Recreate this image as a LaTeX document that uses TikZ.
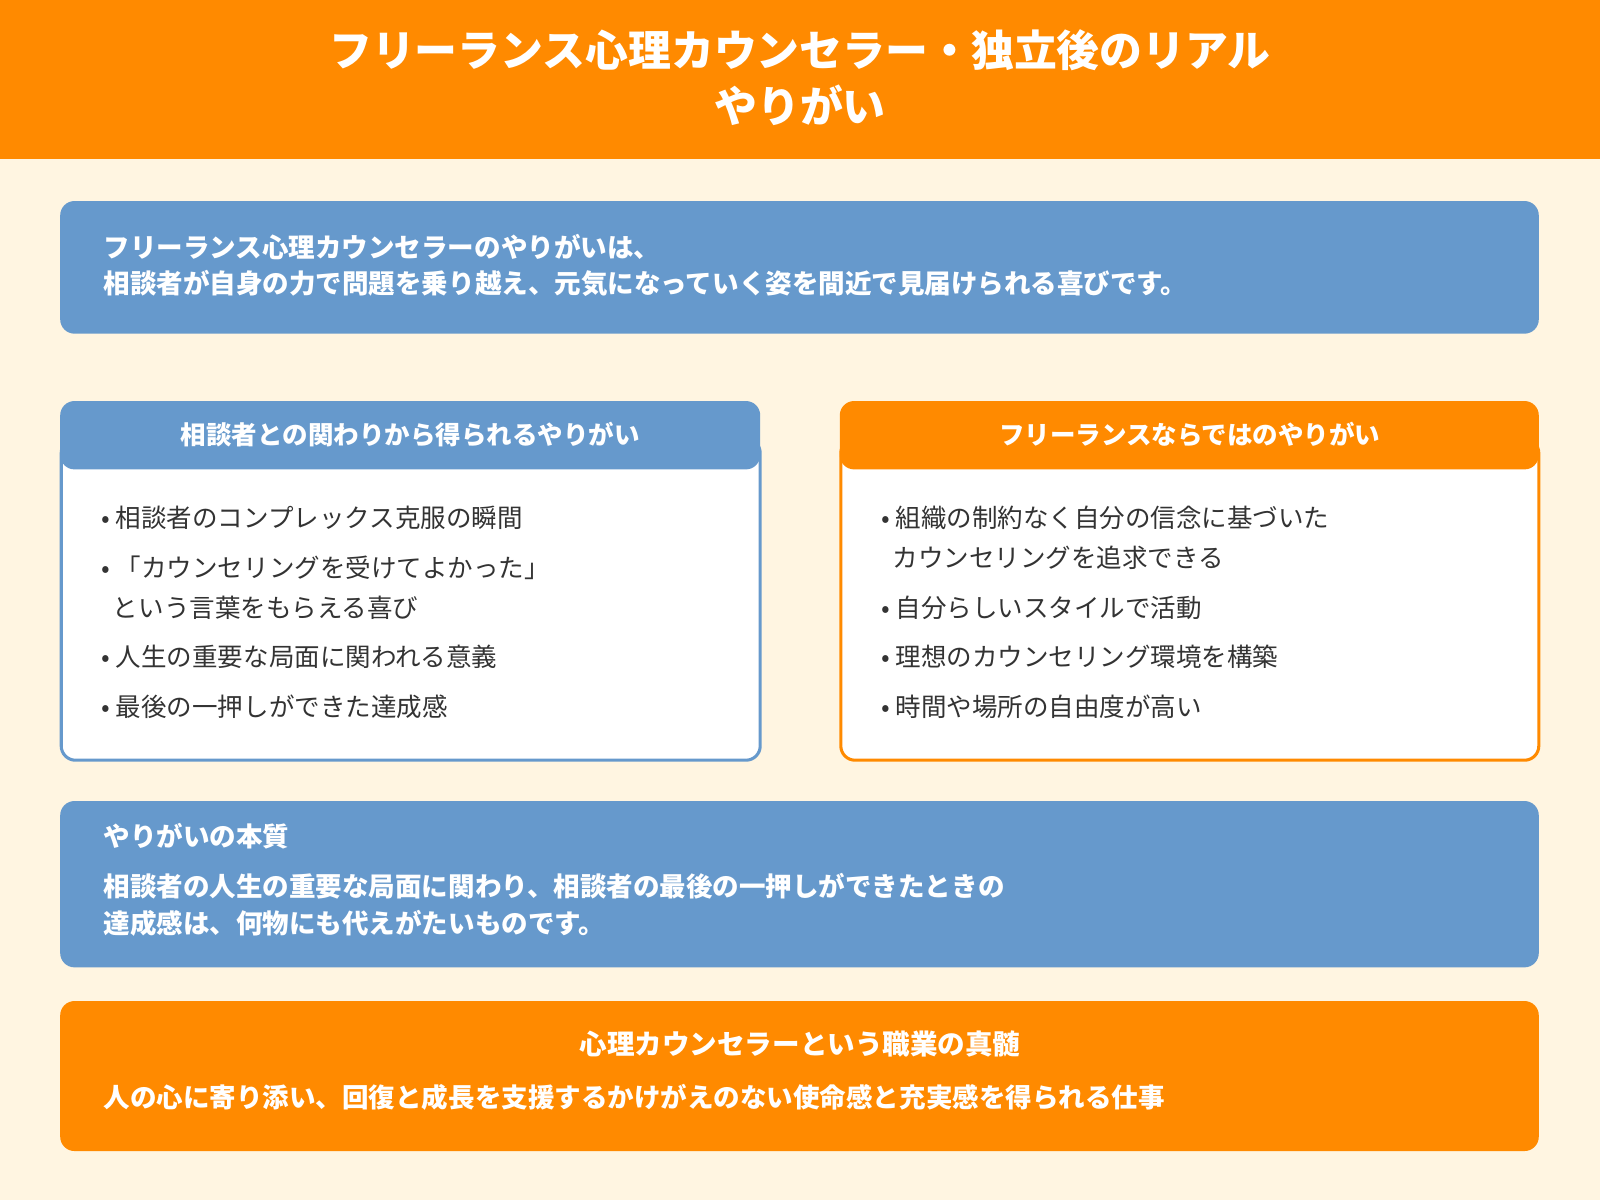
\documentclass[tikz,border=0pt]{standalone}
\usepackage{fontspec}
\setmainfont{Noto Sans CJK JP}
\usetikzlibrary{positioning}
\definecolor{accent}{HTML}{FF8A00}
\definecolor{steel}{HTML}{6699CC}
\definecolor{cream}{HTML}{FFF5E1}
\definecolor{ink}{HTML}{333333}
\begin{document}
\begin{tikzpicture}
    [ x = 1pt, y = -1pt
    , banner/.style =
      { rounded corners = 14pt }
    , headtext/.style =
      { text = white, font = \bfseries\fontsize{25}{30}\selectfont }
    , bodytext/.style =
      { text = white, font = \bfseries\fontsize{26}{36}\selectfont, align = left, anchor = west }
    , item/.style =
      { text = ink, font = \fontsize{25}{40}\selectfont, align = left, anchor = west }
    ]
    \useasboundingbox (0,0) rectangle (1568,1176);
    \fill [cream] (0,0) rectangle (1568,1176);
    % header
    \fill [accent] (0,0) rectangle (1568,156);
    \node (title) [text=white, font=\bfseries\fontsize{42}{55}\selectfont, align=center]
      at (784,76) {フリーランス心理カウンセラー・独立後のリアル\\やりがい};

    % summary
    \fill [steel, banner] (59,197) rectangle (1508,327);
    \node (summary) [bodytext] at (98,260)
      {フリーランス心理カウンセラーのやりがいは、\\相談者が自身の力で問題を乗り越え、元気になっていく姿を間近で見届けられる喜びです。};

    % left panel
    \draw [steel, line width=3pt, fill=white, banner] (60,430) rectangle (745,745);
    \fill [steel, banner] (59,393) rectangle (745,460);
    \node (lefthead) [headtext] at (402,426) {相談者との関わりから得られるやりがい};
    \node (l1) [item] at (96,507) {• 相談者のコンプレックス克服の瞬間};
    \node (l2) [item] at (96,576) {• 「カウンセリングを受けてよかった」\\\ \ という言葉をもらえる喜び};
    \node (l3) [item] at (96,644) {• 人生の重要な局面に関われる意義};
    \node (l4) [item] at (96,693) {• 最後の一押しができた達成感};

    % right panel
    \draw [accent, line width=3pt, fill=white, banner] (824,430) rectangle (1508,745);
    \fill [accent, banner] (823,393) rectangle (1508,460);
    \node (righthead) [headtext] at (1166,426) {フリーランスならではのやりがい};
    \node (r1) [item] at (860,527) {• 組織の制約なく自分の信念に基づいた\\\ \ カウンセリングを追求できる};
    \node (r2) [item] at (860,596) {• 自分らしいスタイルで活動};
    \node (r3) [item] at (860,644) {• 理想のカウンセリング環境を構築};
    \node (r4) [item] at (860,693) {• 時間や場所の自由度が高い};

    % essence
    \fill [steel, banner] (59,785) rectangle (1508,948);
    \node (essencehead) [bodytext] at (98,819) {やりがいの本質};
    \node (essence) [bodytext] at (98,887)
      {相談者の人生の重要な局面に関わり、相談者の最後の一押しができたときの\\達成感は、何物にも代えがたいものです。};

    % core
    \fill [accent, banner] (59,981) rectangle (1508,1128);
    \node (corehead) [headtext, font=\bfseries\fontsize{27}{32}\selectfont] at (784,1023) {心理カウンセラーという職業の真髄};
    \node (core) [bodytext] at (98,1075) {人の心に寄り添い、回復と成長を支援するかけがえのない使命感と充実感を得られる仕事};
\end{tikzpicture}
\end{document}
